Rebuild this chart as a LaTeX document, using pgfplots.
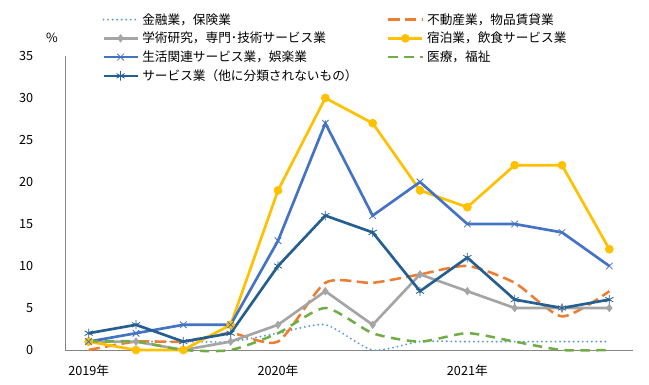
\documentclass[border=0pt]{standalone}
\usepackage{fontspec}
\setmainfont{Noto Sans CJK JP}
\usepackage{pgfplots}
\pgfplotsset{compat=1.18}
\definecolor{cFin}{HTML}{5B9BD5}
\definecolor{cRe}{HTML}{ED7D31}
\definecolor{cSci}{HTML}{A5A5A5}
\definecolor{cHot}{HTML}{FFC000}
\definecolor{cLiv}{HTML}{4472C4}
\definecolor{cMed}{HTML}{70AD47}
\definecolor{cOth}{HTML}{255E91}
\definecolor{axgray}{HTML}{868686}
\begin{document}
\fontsize{9.5}{11}\selectfont
\begin{tikzpicture}
\path[use as bounding box] (-48.75pt,-26.25pt) rectangle (438pt,262.5pt);
\begin{axis}[
  at={(0,0)}, anchor=south west,
  scale only axis, width=426pt, height=220.5pt,
  xmin=-0.5, xmax=11.5, ymin=0, ymax=35,
  axis x line=bottom, axis y line=left,
  axis line style={-, axgray, line width=0.6pt},
  xtick={0,4,8}, xticklabels={2019年,2020年,2021年},
  ytick={0,5,10,15,20,25,30,35},
  major tick length=0pt,
  /pgf/number format/assume math mode=true,
  tick label style={font=\fontsize{9.5}{11}\selectfont, black},
  xticklabel style={yshift=-8pt},
  yticklabel style={xshift=-20.5pt},
  clip=false,
  legend columns=2,
  legend cell align=left,
  legend style={draw=none, fill=none, at={(0.065,1.146)}, anchor=north west,
    inner sep=0pt, row sep=4.6pt,
    nodes={inner sep=0pt, font=\fontsize{9.5}{11}\selectfont},
    /tikz/every even column/.append style={column sep=22pt},
    /tikz/every odd column/.append style={column sep=2.5pt}},
  legend image code/.code={\draw[mark repeat=2,mark phase=2] plot coordinates {(0cm,0cm) (0.45cm,0cm) (0.9cm,0cm)};},
]
\addplot[cFin, line width=1.6pt, line cap=round, dash pattern=on 0pt off 3.4pt, smooth, tension=0.4] coordinates {
(0,1)(1,1)(2,1)(3,1)(4,2)(5,3)(6,0)(7,1)(8,1)(9,1)(10,1)(11,1)};
\addlegendentry{金融業，保険業}
\addplot[cRe, line width=1.9pt, dash pattern=on 8.5pt off 4pt, smooth, tension=0.4] coordinates {
(0,0)(1,1)(2,1)(3,2)(4,1)(5,8)(6,8)(7,9)(8,10)(9,8)(10,4)(11,7)};
\addlegendentry{不動産業，物品賃貸業}
\addplot[cSci, line width=2pt, mark=diamond*, mark size=2.8pt, mark options={solid, fill=cSci, line width=0.5pt}] coordinates {
(0,1)(1,1)(2,0)(3,1)(4,3)(5,7)(6,3)(7,9)(8,7)(9,5)(10,5)(11,5)};
\addlegendentry{学術研究，専門･技術サービス業}
\addplot[cHot, line width=2pt, mark=*, mark size=3pt, mark options={solid, fill=cHot, line width=0.5pt}] coordinates {
(0,1)(1,0)(2,0)(3,3)(4,19)(5,30)(6,27)(7,19)(8,17)(9,22)(10,22)(11,12)};
\addlegendentry{宿泊業，飲食サービス業}
\addplot[cLiv, line width=2pt, mark=x, mark size=3.5pt, mark options={solid, line width=0.6pt}] coordinates {
(0,1)(1,2)(2,3)(3,3)(4,13)(5,27)(6,16)(7,20)(8,15)(9,15)(10,14)(11,10)};
\addlegendentry{生活関連サービス業，娯楽業}
\addplot[cMed, line width=1.9pt, dash pattern=on 7pt off 5pt, smooth, tension=0.4] coordinates {
(0,1)(1,1)(2,0)(3,0)(4,2)(5,5)(6,2)(7,1)(8,2)(9,1)(10,0)(11,0)};
\addlegendentry{医療，福祉}
\addplot[cOth, line width=2pt, mark=asterisk, mark size=3.5pt, mark options={solid, line width=0.6pt}] coordinates {
(0,2)(1,3)(2,1)(3,2)(4,10)(5,16)(6,14)(7,7)(8,11)(9,6)(10,5)(11,6)};
\addlegendentry{サービス業（他に分類されないもの）}
\end{axis}
\node at (-9.75pt,234pt) {\%};
\end{tikzpicture}
\end{document}
